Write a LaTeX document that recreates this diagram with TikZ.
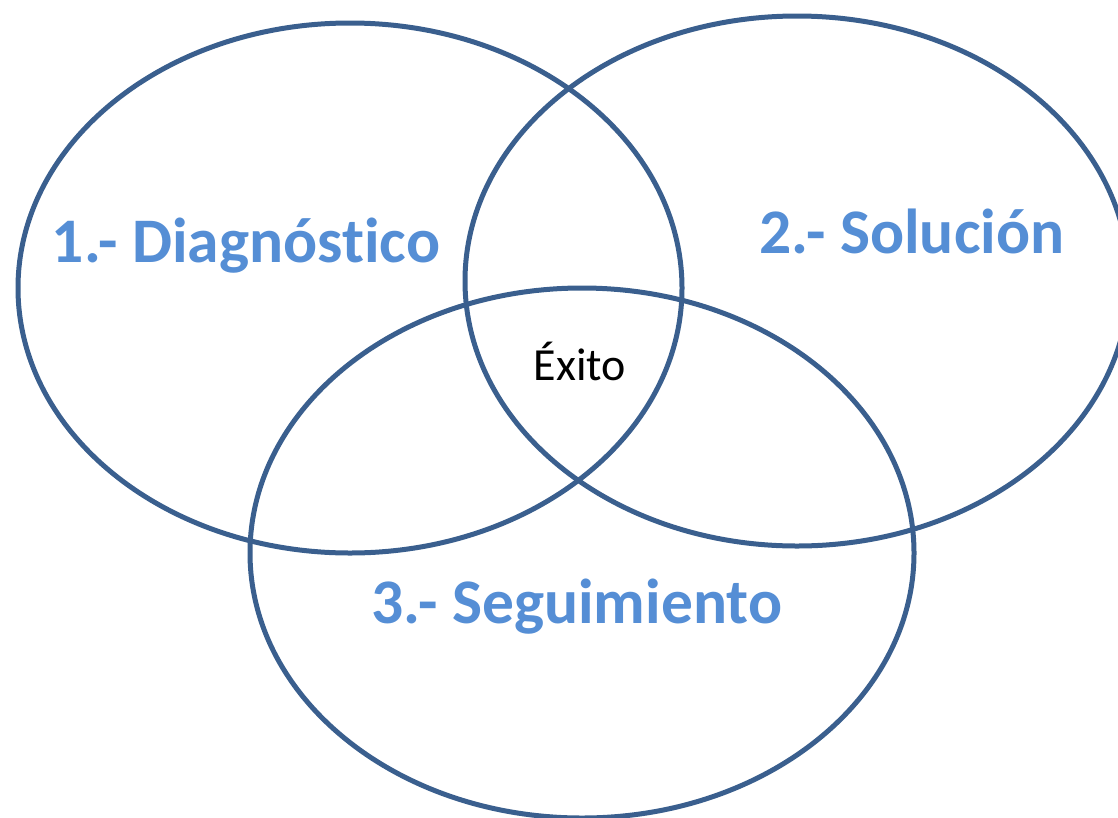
\documentclass[tikz,border=0pt]{standalone}
\usepackage{fontspec}
\setmainfont[Ligatures=NoCommon]{Carlito}
\usepackage{tikz}
\usetikzlibrary{shapes.geometric}
\definecolor{ringblue}{HTML}{3A5F8E}
\definecolor{labelblue}{HTML}{558ED5}

\begin{document}
\begin{tikzpicture}[x=1pt,y=-1pt]
        \tikzstyle{ring node}=[draw=ringblue,line width=5pt,ellipse,inner sep=0pt,minimum width=664pt,minimum height=530pt]
        \tikzstyle{step node}=[text=labelblue,font=\fontsize{63.5}{70}\selectfont\bfseries,anchor=base,inner sep=0pt]
        \useasboundingbox (0,0) rectangle (1118,817);
        \node[ring node] (Diagnostico) at (350,288) {};
        \node[ring node] (Solucion) at (797,281) {};
        \node[ring node] (Seguimiento) at (582,553) {};
        \node[step node] (DiagLabel) at (246,262) {1.- Diagnóstico};
        \node[step node] (SolLabel) at (912,253) {2.- Solución};
        \node[step node] (SegLabel) at (577,623) {3.- Seguimiento};
        \node[anchor=base,inner sep=0pt,font=\fontsize{46}{52}\selectfont] (Exito) at (580,380) {Éxito};
    \end{tikzpicture}
\end{document}
